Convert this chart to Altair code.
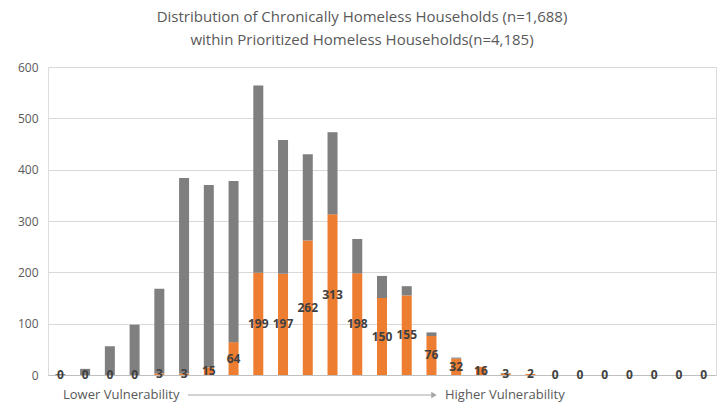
import altair as alt
import pandas as pd

positions = list(range(1, 28))
chronic = [0, 0, 0, 0, 3, 3, 15, 64, 199, 197, 262, 313, 198, 150, 155, 76, 32, 16, 3, 2, 0, 0, 0, 0, 0, 0, 0]
other = [2, 12, 56, 98, 165, 381, 355, 314, 365, 261, 168, 160, 67, 43, 18, 7, 2, 0, 1, 0, 0, 0, 0, 0, 0, 0, 0]
y_ticks = [0, 100, 200, 300, 400, 500, 600]
title_lines = ["Distribution of Chronically Homeless Households (n=1,688)",
               "within Prioritized Homeless Households(n=4,185)"]
left_label = "Lower Vulnerability"
right_label = "Higher Vulnerability"

FONT = "Open Sans"

rows = []
for p, c, o in zip(positions, chronic, other):
    rows.append({"pos": p, "group": "Chronic", "value": c, "rank": 0})
    rows.append({"pos": p, "group": "Other", "value": o, "rank": 1})
df = pd.DataFrame(rows)
lab = pd.DataFrame({"pos": positions, "chronic": chronic})

x_enc = alt.X("pos:O", scale=alt.Scale(paddingInner=0.6, paddingOuter=0.3),
              axis=alt.Axis(labels=False, ticks=False, title=None, domainColor="#bfbfbf"))

bars = alt.Chart(df).mark_bar(size=10).encode(
    x=x_enc,
    y=alt.Y("value:Q", stack="zero", scale=alt.Scale(domain=[0, 600], nice=False),
            axis=alt.Axis(values=y_ticks, title=None, domain=False, ticks=False,
                          gridColor="#d9d9d9", labelColor="#595959", labelFontSize=12,
                          labelPadding=10, labelFont=FONT)),
    color=alt.Color("group:N", scale=alt.Scale(domain=["Chronic", "Other"],
                                               range=["#ED7D31", "#7F7F7F"]), legend=None),
    order=alt.Order("rank:Q"),
)

labels = alt.Chart(lab).transform_calculate(mid="datum.chronic / 2").mark_text(
    fontSize=12, fontWeight="bold", color="#404040", font=FONT, baseline="middle"
).encode(
    x=x_enc,
    y=alt.Y("mid:Q"),
    text=alt.Text("chronic:Q"),
)

ann = pd.DataFrame({"a": [0]})
left_txt = alt.Chart(ann).mark_text(text=left_label, align="left", baseline="middle",
                                    fontSize=13, color="#595959", font=FONT).encode(
    x=alt.value(15), y=alt.value(328))
right_txt = alt.Chart(ann).mark_text(text=right_label, align="left", baseline="middle",
                                     fontSize=13, color="#595959", font=FONT).encode(
    x=alt.value(397), y=alt.value(328))
arrow_line = alt.Chart(ann).mark_rule(color="#a6a6a6", strokeWidth=1).encode(
    x=alt.value(140), x2=alt.value(384), y=alt.value(328))
arrow_head = alt.Chart(ann).mark_point(shape="triangle-right", filled=True, size=40,
                                       color="#a6a6a6", opacity=1).encode(
    x=alt.value(386), y=alt.value(328))

chart = alt.layer(bars, labels, left_txt, right_txt, arrow_line, arrow_head).properties(
    width=668, height=308,
    title=alt.TitleParams(text=title_lines, fontSize=15, color="#595959", fontWeight="normal",
                          font=FONT, anchor="middle", dx=-20, offset=13, lineHeight=23),
    autosize=alt.AutoSizeParams(type="none"),
    padding={"left": 48, "top": 67, "right": 2, "bottom": 30},
).configure_view(stroke=None).configure(background="white")

chart.save("out.html", embed_options={"renderer": "svg", "actions": False})
